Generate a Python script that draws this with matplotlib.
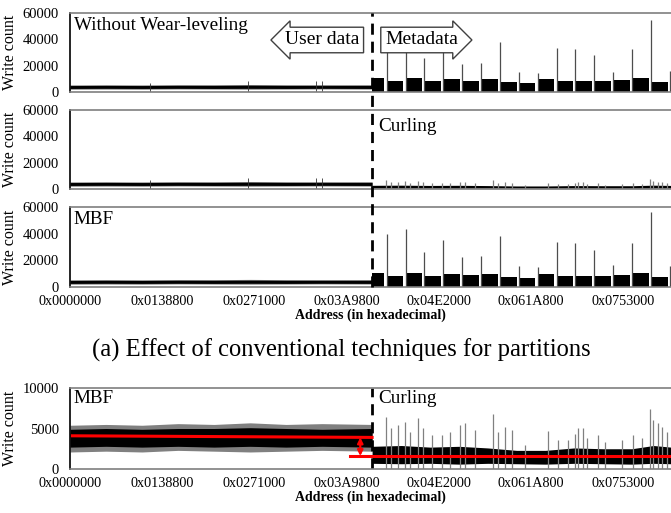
import matplotlib.pyplot as plt
from matplotlib.lines import Line2D

plt.rcParams['font.family'] = ['Liberation Serif', 'DejaVu Serif']

# x axis: addresses
tick_addrs = [0x0000000, 0x0138800, 0x0271000, 0x03A9800, 0x04E2000, 0x061A800, 0x0753000]
tick_labels = ['0x0000000', '0x0138800', '0x0271000', '0x03A9800',
               '0x04E2000', '0x061A800', '0x0753000']
x_max = 8344000
boundary = 0x400000   # user data | metadata
period = 0x40000      # one metadata group

# user-data region (same for all partitions), envelope of write counts
user_env_addr = [0, 500000, 1000000, 1500000, 2000000, 2500000, 3000000, 3500000, boundary]
user_outer_lo = [2100, 2200, 2100, 2300, 2200, 2100, 2200, 2300, 2200]
user_outer_hi = [5400, 5500, 5400, 5600, 5500, 5700, 5500, 5600, 5500]
user_inner_lo = [2700, 2800, 2700, 2800, 2700, 2800, 2700, 2800, 2700]
user_inner_hi = [4900, 5000, 4900, 5000, 5000, 5100, 5000, 4900, 5000]
user_spike_addr = [1110000, 2470000, 3420000, 3500000]
user_spike = [6900, 8200, 8200, 8200]
mbf_mean = [4100, 3900]

# metadata groups, without wear-leveling
nowl_block = [10300, 8200, 10300, 8700, 10000, 8700, 9500, 7700,
              6900, 9500, 8700, 8200, 8200, 9000, 10300, 7700]
nowl_spike = [33000, 33000, 25600, 33000, 21500, 22000, 37700, 14900,
              14400, 33300, 32600, 28000, 15400, 32600, 55000, 16000]
# metadata groups, MBF
mbf_block = [10500, 8400, 10200, 8600, 10100, 8800, 9400, 7600,
             7000, 9600, 8600, 8300, 8100, 9100, 10400, 7800]
mbf_spike = [40000, 43800, 26400, 34900, 22400, 22900, 38100, 15700,
             15200, 33900, 33100, 28100, 16200, 33100, 56300, 15700]

# metadata region with Curling
curl_env_addr = [boundary, 4600000, 5000000, 5400000, 5800000, 6200000, 6600000,
                 7000000, 7400000, 7800000, 8100000, x_max]
curl_lo = [700, 650, 700, 600, 700, 650, 600, 700, 650, 600, 700, 650]
curl_hi = [2800, 2900, 2700, 2800, 2600, 2300, 2300, 2600, 2500, 2500, 2900, 2700]
curl_spike_addr = [4387000, 4456000, 4558000, 4651000, 4720000, 4836000, 4905000,
                   5020000, 5160000, 5275000, 5414000, 5484000, 5623000, 5868000,
                   5947000, 6040000, 6132000, 6317000, 6640000, 6780000, 6920000,
                   7011000, 7057000, 7118000, 7173000, 7326000, 7427000, 7659000,
                   7820000, 7937000, 8052000, 8098000, 8159000, 8214000, 8284000]
curl_spike = [6460, 5020, 5430, 5760, 4610, 6260, 5020, 4200, 4200, 4610, 5430,
              5640, 4820, 6750, 4610, 5230, 4820, 2960, 4690, 3580, 3580, 4280,
              5020, 5020, 3790, 4200, 3370, 3580, 4200, 3790, 7410, 6050, 5640,
              5230, 4610]
curl_mean = 1600


def draw_user(ax):
    ax.fill_between(user_env_addr, user_outer_lo, user_outer_hi, color='#808080', lw=0)
    ax.fill_between(user_env_addr, user_inner_lo, user_inner_hi, color='black', lw=0)


def draw_meta_groups(ax, blocks, spikes):
    for k in range(len(blocks)):
        s = boundary + (k + 0.77) * period
        a = boundary if k == 0 else boundary + (k - 0.23 + 0.04) * period
        b = s - 0.12 * period
        ax.fill_between([a, b], 0, blocks[k], color='black', lw=0)
        ax.vlines(s, 0, spikes[k], color='#4d4d4d', lw=0.9)


def draw_curling(ax):
    ax.vlines(curl_spike_addr, 0, curl_spike, color='#808080', lw=0.9)
    ax.fill_between(curl_env_addr, curl_lo, curl_hi, color='black', lw=0)


def style(ax, ymax, yticks, xlabels=False):
    ax.set_xlim(0, x_max)
    ax.set_ylim(0, ymax)
    ax.set_yticks(yticks)
    ax.set_yticklabels([str(v) for v in yticks], fontsize=10.5)
    ax.set_xticks(tick_addrs)
    if xlabels:
        ax.set_xticklabels(tick_labels, fontsize=10.2)
        ax.set_xlabel('Address (in hexadecimal)', fontsize=10, fontweight='bold', labelpad=0)
    else:
        ax.set_xticklabels([])
    ax.tick_params(length=0, pad=8)
    ax.tick_params(axis='x', pad=6)
    ax.set_ylabel('Write count', fontsize=11.5, labelpad=3)
    ax.spines['right'].set_visible(False)
    ax.spines['top'].set_color('#7f7f7f')
    ax.spines['bottom'].set_color('#7f7f7f')
    ax.spines['left'].set_color('black')
    for sp in ax.spines.values():
        sp.set_linewidth(1.2)


fig = plt.figure(figsize=(6.71, 5.13), dpi=100)
L = 70 / 671
W = 1 - L
ax1 = fig.add_axes([L, 1 - 92 / 513, W, 79 / 513])
ax2 = fig.add_axes([L, 1 - 189 / 513, W, 79 / 513])
ax3 = fig.add_axes([L, 1 - 287 / 513, W, 80 / 513])
ax4 = fig.add_axes([L, 1 - 469 / 513, W, 81 / 513])

top_ticks = [0, 20000, 40000, 60000]

# (1) without wear-leveling
draw_user(ax1)
ax1.vlines(user_spike_addr, 0, user_spike, color='#333333', lw=0.6)
draw_meta_groups(ax1, nowl_block, nowl_spike)
style(ax1, 60000, top_ticks)
ax1.text(0.006, 0.95, 'Without Wear-leveling', transform=ax1.transAxes,
         fontsize=13.8, va='top', ha='left')
ax1.text(3.5e6, 39500, 'User data', fontsize=14, ha='center', va='center',
         bbox=dict(boxstyle='larrow,pad=0.22', fc='white', ec='#404040', lw=1))
ax1.text(4.88e6, 39500, 'Metadata', fontsize=14, ha='center', va='center',
         bbox=dict(boxstyle='rarrow,pad=0.22', fc='white', ec='#404040', lw=1))

# (2) Curling
draw_user(ax2)
ax2.vlines(user_spike_addr, 0, user_spike, color='#333333', lw=0.6)
draw_curling(ax2)
style(ax2, 60000, top_ticks)
ax2.text(0.513, 0.9, 'Curling', transform=ax2.transAxes, fontsize=13.8, va='top', ha='left')

# (3) MBF
draw_user(ax3)
draw_meta_groups(ax3, mbf_block, mbf_spike)
style(ax3, 60000, top_ticks, xlabels=True)
ax3.text(0.006, 0.95, 'MBF', transform=ax3.transAxes, fontsize=13.8, va='top', ha='left')

# (b) MBF user data vs Curling metadata
draw_user(ax4)
draw_curling(ax4)
ax4.plot([0, boundary], mbf_mean, color='red', lw=2.2)
ax4.plot([3.89e6, x_max], [curl_mean, curl_mean], color='red', lw=2.2)
ax4.annotate('', xy=(4.03e6, mbf_mean[1]), xytext=(4.03e6, curl_mean),
             arrowprops=dict(arrowstyle='<|-|>', color='red', lw=1.6,
                             mutation_scale=8, shrinkA=0, shrinkB=0))
style(ax4, 10000, [0, 5000, 10000], xlabels=True)
ax4.text(0.006, 0.97, 'MBF', transform=ax4.transAxes, fontsize=13.8, va='top', ha='left')
ax4.text(0.513, 0.97, 'Curling', transform=ax4.transAxes, fontsize=13.8, va='top', ha='left')
ax4.axvline(boundary, color='black', lw=2, ls=(0, (4, 2.5)))

# dashed boundary across the three upper panels
fig.canvas.draw()
xb = fig.transFigure.inverted().transform(ax1.transData.transform((boundary, 0)))[0]
y_top = ax1.get_position().y1
y_bot = ax3.get_position().y0
fig.add_artist(Line2D([xb, xb], [y_bot, y_top], color='black', lw=2,
                      ls=(0, (4, 2.5)), transform=fig.transFigure))

fig.text(341 / 671, 1 - 350 / 513, '(a) Effect of conventional techniques for partitions',
         fontsize=17.7, ha='center', va='center')

fig.savefig('out.png', dpi=100)
